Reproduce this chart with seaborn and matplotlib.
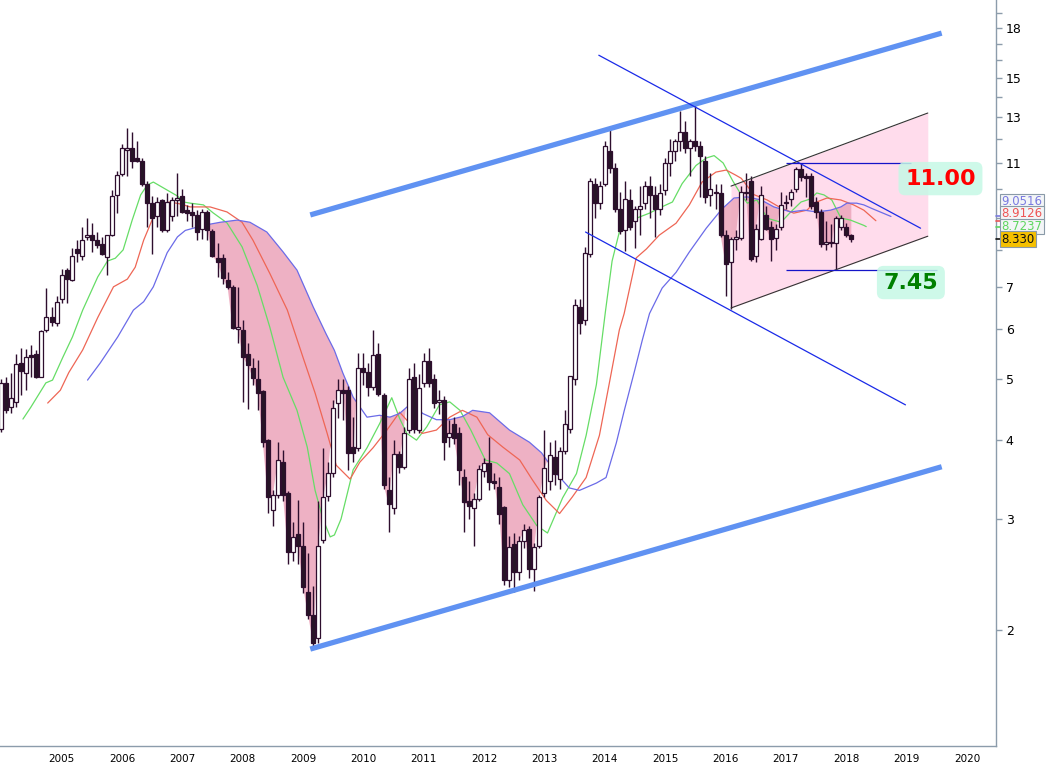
import numpy as np
import pandas as pd
import matplotlib
matplotlib.use('Agg')
import matplotlib.pyplot as plt
import seaborn as sns

# monthly candles, Jan 2004 .. Feb 2018
start_year = 2004
opens = [4.17, 4.92, 4.51, 4.60, 5.30, 5.11, 5.45, 5.48, 5.04, 5.98, 6.27, 6.14,
         6.69, 7.44, 7.17, 8.03, 7.83, 8.40, 8.46, 8.30, 8.18, 7.80, 8.46, 9.80,
         10.55, 11.55, 11.6, 11.2, 11.1, 10.2, 9.5, 9.05, 9.6, 8.6, 9.05, 9.62,
         9.75, 9.26, 9.2, 9.1, 8.65, 9.2, 8.58, 7.78, 7.78, 7.17, 7.0, 6.0,
         5.98, 5.47, 5.2, 5.0, 4.78, 4.0, 3.1, 3.27, 3.70, 3.3, 2.66, 2.84,
         2.72, 2.3, 2.11, 1.94, 2.78, 3.26, 3.55, 4.58, 4.80, 4.80, 3.9, 3.89,
         5.2, 5.13, 4.85, 5.47, 4.72, 3.34, 3.12, 3.80, 3.63, 4.15, 5.04, 4.15,
         4.92, 5.34, 5.0, 4.6, 4.63, 4.04, 4.24, 4.1, 3.5, 3.2, 3.12, 3.23,
         3.58, 3.68, 3.45, 3.37, 3.13, 2.40, 2.74, 2.47, 2.77, 2.89, 2.5, 2.72,
         3.3, 3.45, 3.76, 3.47, 3.85, 4.17, 5.0, 6.5, 6.2, 7.9, 10.2, 9.5,
         10.2, 11.5, 10.8, 9.3, 8.6, 9.6, 8.9, 9.3, 9.5, 10.1, 9.8, 9.3,
         9.95, 11.0, 11.5, 11.9, 12.3, 11.6, 11.9, 11.7, 11.1, 9.8, 9.9, 9.85,
         8.45, 7.65, 8.35, 8.37, 9.85, 10.3, 7.83, 8.35, 9.1, 8.7, 8.38, 8.7,
         9.5, 9.65, 10.0, 10.77, 10.45, 10.5, 9.55, 9.2, 8.17, 8.25, 8.2, 8.7,
         8.7, 8.45]
highs = [5.0, 5.04, 5.11, 5.48, 5.60, 5.58, 5.66, 5.55, 5.98, 6.97, 6.50, 6.77,
         7.47, 7.50, 8.06, 8.30, 8.71, 8.99, 8.83, 8.55, 8.39, 8.46, 9.97, 10.7,
         11.8, 12.5, 12.3, 11.9, 11.2, 10.3, 9.75, 9.7, 9.65, 9.85, 9.7, 10.6,
         10.0, 9.45, 9.5, 9.25, 9.3, 9.25, 8.65, 8.2, 7.9, 7.4, 7.05, 7.0,
         6.2, 5.7, 5.4, 5.36, 4.8, 4.02, 3.33, 3.97, 3.86, 3.32, 2.97, 3.21,
         2.97, 2.65, 2.35, 3.2, 3.88, 3.7, 4.63, 5.0, 5.0, 4.88, 4.35, 5.5,
         5.5, 5.3, 5.98, 5.7, 4.75, 3.5, 4.0, 3.85, 4.2, 5.2, 5.3, 5.1,
         5.5, 5.6, 5.1, 4.8, 4.7, 4.3, 4.35, 4.2, 3.6, 3.45, 3.3, 3.65,
         3.75, 4.05, 3.55, 3.5, 3.15, 2.82, 2.85, 2.82, 2.95, 2.92, 2.75, 3.28,
         4.15, 3.97, 4.0, 3.9, 4.46, 5.06, 6.7, 6.7, 8.1, 10.4, 10.4, 10.3,
         11.9, 12.4, 11.0, 9.9, 10.3, 10.0, 9.4, 10.1, 10.3, 10.5, 10.1, 10.2,
         11.2, 12.0, 12.0, 13.3, 12.8, 12.0, 13.6, 11.9, 11.3, 10.6, 10.2, 10.2,
         8.6, 8.4, 8.6, 10.1, 10.6, 10.5, 8.8, 10.1, 9.4, 8.9, 8.8, 9.9,
         9.8, 10.0, 10.85, 11.0, 10.6, 10.6, 9.7, 9.3, 8.9, 8.8, 9.05, 9.1,
         8.85, 8.5]
lows = [4.12, 4.41, 4.41, 4.51, 4.72, 4.80, 5.04, 5.02, 5.03, 5.94, 6.06, 6.06,
        6.60, 6.60, 7.15, 7.67, 7.72, 8.30, 7.95, 8.06, 7.86, 7.30, 8.43, 9.15,
        10.5, 10.5, 10.8, 11.05, 10.1, 8.7, 7.9, 8.7, 8.55, 8.55, 8.9, 9.05,
        9.15, 8.9, 8.7, 8.3, 8.35, 8.3, 7.8, 7.25, 7.08, 6.95, 6.0, 5.7,
        4.6, 4.48, 4.9, 4.46, 3.9, 3.07, 2.92, 3.24, 3.2, 2.55, 2.57, 2.55,
        2.29, 2.08, 1.88, 1.91, 2.75, 3.2, 3.5, 4.33, 4.3, 3.59, 3.7, 3.85,
        4.9, 4.7, 4.8, 4.7, 3.35, 2.86, 3.05, 3.55, 3.6, 4.1, 4.1, 4.1,
        4.85, 4.85, 4.5, 4.4, 3.72, 3.9, 3.95, 3.4, 2.86, 3.0, 2.72, 3.2,
        3.5, 3.33, 3.35, 2.95, 2.36, 2.34, 2.3, 2.4, 2.7, 2.42, 2.31, 2.7,
        3.25, 3.33, 3.4, 3.35, 3.8, 4.1, 4.9, 5.9, 6.1, 7.8, 9.0, 9.3,
        10.1, 10.6, 9.2, 8.5, 7.97, 8.6, 8.07, 8.45, 9.3, 9.0, 8.4, 9.1,
        9.8, 10.5, 11.1, 11.5, 11.4, 10.5, 11.5, 9.7, 9.5, 9.4, 9.3, 8.4,
        6.76, 6.45, 8.0, 8.3, 9.6, 7.7, 7.65, 8.3, 8.6, 7.7, 8.0, 8.6,
        9.3, 9.4, 9.9, 10.3, 9.7, 9.3, 9.0, 8.1, 8.0, 8.1, 7.45, 8.6,
        8.4, 8.25]
closes = [4.92, 4.46, 4.67, 5.28, 5.14, 5.41, 5.42, 5.04, 5.96, 6.27, 6.16, 6.62,
          7.30, 7.20, 7.83, 7.92, 8.30, 8.43, 8.30, 8.15, 7.89, 8.46, 9.75, 10.52,
          11.6, 11.6, 11.1, 11.1, 10.2, 9.5, 9.0, 9.55, 8.6, 9.55, 9.6, 9.68,
          9.2, 9.17, 9.1, 8.55, 9.2, 8.6, 7.83, 7.66, 7.22, 7.0, 6.03, 6.05,
          5.42, 5.26, 5.02, 4.75, 3.97, 3.25, 3.27, 3.72, 3.27, 2.66, 2.81, 2.72,
          2.34, 2.11, 1.91, 2.72, 3.25, 3.55, 4.5, 4.80, 4.75, 3.82, 3.82, 5.2,
          5.13, 4.85, 5.45, 4.74, 3.4, 3.17, 3.80, 3.63, 4.11, 5.0, 4.17, 4.84,
          5.34, 4.92, 4.58, 4.62, 3.98, 4.1, 4.03, 3.59, 3.19, 3.14, 3.23, 3.6,
          3.68, 3.43, 3.42, 3.05, 2.40, 2.71, 2.47, 2.77, 2.88, 2.5, 2.71, 3.25,
          3.61, 3.79, 3.54, 3.85, 4.24, 5.06, 6.55, 6.14, 7.93, 10.3, 9.5, 10.1,
          11.7, 10.8, 9.3, 8.58, 9.65, 8.7, 9.3, 9.4, 10.1, 9.8, 9.3, 9.85,
          11.0, 11.5, 11.9, 12.3, 11.6, 11.9, 11.7, 11.3, 9.7, 10.0, 9.85, 8.45,
          7.6, 8.35, 8.38, 9.9, 9.9, 7.75, 8.65, 9.8, 8.65, 8.35, 8.65, 9.45,
          9.55, 9.9, 10.77, 10.45, 10.42, 9.4, 9.2, 8.17, 8.25, 8.2, 9.0, 9.0,
          8.45, 8.33]

# moving averages as drawn (decimal year, price)
ma_green_x = [2004.36, 2004.49, 2004.74, 2004.85, 2005.02, 2005.18, 2005.35, 2005.60, 2005.76, 2005.89,
              2006.02, 2006.17, 2006.31, 2006.42, 2006.52, 2006.69, 2006.80, 2006.92, 2007.02, 2007.13,
              2007.35, 2007.51, 2007.74, 2007.99, 2008.24, 2008.45, 2008.67, 2008.90, 2009.07, 2009.20,
              2009.33, 2009.45, 2009.52, 2009.63, 2009.83, 2010.06, 2010.27, 2010.47, 2010.60, 2010.72,
              2010.88, 2011.05, 2011.26, 2011.43, 2011.60, 2011.78, 2012.02, 2012.21, 2012.42, 2012.64,
              2012.87, 2013.05, 2013.30, 2013.53, 2013.69, 2013.86, 2014.01, 2014.12, 2014.24, 2014.37,
              2014.52, 2014.74, 2014.90, 2015.12, 2015.28, 2015.51, 2015.68, 2015.81, 2015.96, 2016.12,
              2016.26, 2016.36, 2016.52, 2016.69, 2016.92, 2017.08, 2017.25, 2017.41, 2017.51, 2017.63,
              2017.76, 2017.91, 2018.07, 2018.29, 2018.33]
ma_green = [4.32, 4.51, 4.93, 4.98, 5.41, 5.83, 6.43, 7.26, 7.69, 7.77,
            8.01, 8.93, 9.79, 10.15, 10.26, 10.04, 9.9, 9.75, 9.54, 9.5,
            9.44, 9.17, 8.84, 8.1, 7.04, 6.04, 5.03, 4.46, 3.9, 3.33,
            3.0, 2.81, 2.83, 3.0, 3.59, 3.89, 4.25, 4.67, 4.33, 4.10,
            4.0, 4.2, 4.55, 4.6, 4.46, 4.15, 3.72, 3.68, 3.54, 3.16,
            2.93, 2.85, 3.24, 3.54, 4.07, 4.9, 6.4, 7.69, 8.55, 8.93,
            8.99, 9.16, 9.33, 9.54, 10.2, 10.9, 11.2, 11.3, 11.0, 10.3,
            9.79, 9.5, 9.61, 8.99, 8.86, 9.2, 9.54, 9.65, 9.86, 9.79,
            9.61, 9.0, 8.93, 8.76, 8.72]

ma_red_x = [2004.77, 2004.98, 2005.12, 2005.35, 2005.60, 2005.86, 2006.09, 2006.22, 2006.36, 2006.52,
            2006.69, 2006.80, 2006.97, 2007.13, 2007.46, 2007.74, 2007.99, 2008.17, 2008.45, 2008.74,
            2009.00, 2009.20, 2009.40, 2009.55, 2009.78, 2009.94, 2010.16, 2010.39, 2010.60, 2010.77,
            2010.98, 2011.21, 2011.43, 2011.64, 2011.88, 2012.06, 2012.31, 2012.59, 2012.80, 2013.03,
            2013.25, 2013.46, 2013.69, 2013.91, 2014.07, 2014.24, 2014.32, 2014.52, 2014.69, 2014.90,
            2015.18, 2015.40, 2015.61, 2015.84, 2016.01, 2016.17, 2016.26, 2016.47, 2016.69, 2016.92,
            2017.13, 2017.35, 2017.46, 2017.68, 2017.91, 2018.12, 2018.29, 2018.49]
ma_red = [4.58, 4.80, 5.12, 5.56, 6.26, 7.0, 7.2, 7.52, 8.3, 9.03,
          9.5, 9.54, 9.47, 9.37, 9.37, 9.2, 8.86, 8.3, 7.35, 6.43,
          5.41, 4.75, 4.1, 3.65, 3.47, 3.69, 3.89, 4.15, 4.43, 4.25,
          4.1, 4.15, 4.35, 4.46, 4.35, 4.08, 3.9, 3.72, 3.46, 3.21,
          3.06, 3.25, 3.49, 4.07, 4.9, 5.98, 6.35, 7.78, 8.04, 8.45,
          8.83, 9.44, 10.26, 10.64, 10.72, 10.52, 10.4, 9.8, 9.61, 9.33,
          9.16, 9.26, 9.5, 9.68, 9.61, 9.44, 9.26, 8.91]

ma_blue_x = [2005.43, 2005.64, 2005.93, 2006.19, 2006.36, 2006.52, 2006.75, 2006.92, 2007.05, 2007.35,
             2007.63, 2007.91, 2008.12, 2008.40, 2008.67, 2008.90, 2009.17, 2009.38, 2009.52, 2009.66,
             2009.83, 2010.06, 2010.27, 2010.44, 2010.60, 2010.82, 2010.98, 2011.21, 2011.43, 2011.64,
             2011.81, 2012.09, 2012.42, 2012.75, 2012.95, 2013.20, 2013.41, 2013.58, 2013.86, 2014.02,
             2014.19, 2014.32, 2014.49, 2014.62, 2014.74, 2014.95, 2015.18, 2015.40, 2015.68, 2015.94,
             2016.14, 2016.36, 2016.59, 2016.80, 2017.08, 2017.30, 2017.51, 2017.74, 2017.91, 2018.01,
             2018.17, 2018.29, 2018.42, 2018.74]
ma_blue = [4.98, 5.3, 5.83, 6.43, 6.63, 7.0, 7.93, 8.4, 8.6, 8.76,
           8.86, 8.93, 8.86, 8.55, 7.95, 7.44, 6.5, 5.9, 5.55, 5.11,
           4.68, 4.35, 4.38, 4.35, 4.41, 4.6, 4.41, 4.31, 4.31, 4.36,
           4.46, 4.42, 4.15, 3.97, 3.82, 3.54, 3.36, 3.33, 3.42, 3.49,
           3.96, 4.45, 5.14, 5.76, 6.35, 6.97, 7.38, 7.95, 8.67, 9.3,
           9.68, 9.72, 9.61, 9.37, 9.2, 9.26, 9.2, 9.26, 9.37, 9.5,
           9.5, 9.44, 9.32, 9.05]

# drawn trend lines: start/end (year, price)
thick_top = [(2009.12, 9.1), (2019.58, 17.67)]
thick_bottom = [(2009.12, 1.866), (2019.58, 3.63)]
thin_upper = [(2013.90, 16.3), (2019.23, 8.67)]
thin_lower = [(2013.68, 8.55), (2018.98, 4.55)]
chan_x = [2016.09, 2019.35]
chan_up = [10.11, 13.2]
chan_lo = [6.48, 8.42]
levels = [11.00, 7.45]
level_start = 2017.0
level_end = [2019.07, 2019.5]

# last values shown on the price axis
tag_labels = ['9.0516', '8.9126', '8.7237', '8.330']
tag_values = [9.0516, 8.9126, 8.7237, 8.330]

years = list(range(2005, 2021))
price_ticks = list(range(2, 20))
price_labels = ['2', '3', '4', '5', '6', '7', '', '', '', '11', '', '13', '', '15', '', '', '18', '']

sns.set_style('white')
plt.rcParams['font.family'] = ['DejaVu Sans']

candles = pd.DataFrame({'open': opens, 'high': highs, 'low': lows, 'close': closes})
candles['x'] = start_year + np.arange(len(candles)) / 12.0

fig = plt.figure(figsize=(10.47, 7.66), dpi=100)
ax = fig.add_axes([0, 20 / 766, 996 / 1047, 746 / 766])
ax.set_yscale('log')

# pink channel box
ax.fill_between(chan_x, chan_lo, chan_up, color='#ffdcec', lw=0, zorder=0.5)

# cloud between slow average and close
blue_at = np.interp(candles['x'], ma_blue_x, ma_blue, left=np.nan, right=np.nan)
valid = ~np.isnan(blue_at)
cx = candles['x'][valid].values
cc = candles['close'][valid].values
bb = blue_at[valid]
ax.fill_between(cx, cc, bb, where=cc < bb, interpolate=True, color='#eda9be', alpha=0.9,
                lw=0, zorder=1)

# moving averages
sns.lineplot(x=ma_green_x, y=ma_green, ax=ax, color='#66dd66', lw=0.9, sort=False,
             estimator=None, legend=False, zorder=2)
sns.lineplot(x=ma_red_x, y=ma_red, ax=ax, color='#ee6655', lw=0.9, sort=False,
             estimator=None, legend=False, zorder=2)
sns.lineplot(x=ma_blue_x, y=ma_blue, ax=ax, color='#6b6be8', lw=0.9, sort=False,
             estimator=None, legend=False, zorder=2)

# candles
edge = '#2e0e2e'
ax.vlines(candles['x'], candles['low'], candles['high'], color=edge, lw=1.0, zorder=3)
bottoms = np.minimum(candles['open'], candles['close'])
heights = np.maximum(np.abs(candles['close'] - candles['open']), bottoms * 0.006)
faces = np.where(candles['close'] < candles['open'], '#261426', 'white')
ax.bar(candles['x'], heights, bottom=bottoms, width=0.066, color=faces,
       edgecolor=edge, linewidth=0.9, zorder=4)

# trend lines
for seg in (thick_top, thick_bottom):
    ax.plot([p[0] for p in seg], [p[1] for p in seg], color='#6092f2', lw=3.8,
            solid_capstyle='butt', zorder=5)
for seg in (thin_upper, thin_lower):
    ax.plot([p[0] for p in seg], [p[1] for p in seg], color='#1a2ae8', lw=0.9, zorder=5)
ax.plot(chan_x, chan_up, color='#333333', lw=0.8, zorder=5)
ax.plot(chan_x, chan_lo, color='#333333', lw=0.8, zorder=5)
for lv, xe in zip(levels, level_end):
    ax.hlines(lv, level_start, xe, color='#1414c8', lw=0.9, zorder=5)

# level labels
ax.text(2019.56, 10.39, f'{levels[0]:.2f}', color='#ff0000', fontsize=16, fontweight='bold',
        ha='center', va='center', zorder=7,
        bbox=dict(boxstyle='round,pad=0.3', fc='#c6f8e6', ec='none', alpha=0.85))
ax.text(2019.07, 7.11, f'{levels[1]:.2f}', color='#008000', fontsize=16, fontweight='bold',
        ha='center', va='center', zorder=7,
        bbox=dict(boxstyle='round,pad=0.3', fc='#c6f8e6', ec='none', alpha=0.85))

# axes look
ax.set_xlim(2003.98, 2020.48)
ax.set_ylim(1.31, 19.94)
for s in ('left', 'top'):
    ax.spines[s].set_visible(False)
for s in ('right', 'bottom'):
    ax.spines[s].set_color('#8c9cab')
    ax.spines[s].set_linewidth(1.0)
ax.yaxis.tick_right()
ax.set_yticks(price_ticks)
ax.set_yticklabels(price_labels)
ax.yaxis.set_minor_locator(plt.NullLocator())
ax.set_xticks(years)
ax.set_xticklabels([str(y) for y in years])
ax.tick_params(axis='y', which='major', length=4, width=1, color='#8c9cab', pad=3,
               labelsize=9, labelcolor='black', right=True, left=False)
ax.tick_params(axis='x', length=3, width=1, color='#8c9cab', pad=3, labelsize=7.5,
               labelcolor='black')
ax.set_xlabel('')
ax.set_ylabel('')

# price tags on the right axis, stacked so they stay readable
tag_colors = ['#7a7ae0', '#ee5555', '#5fd65f', '#111111']
tag_faces = ['#f3f5f7', '#f3f5f7', '#f3f5f7', '#f5c000']
tag_shift = [10.7, 4.8, 0.0, 0.0]
ytrans = ax.get_yaxis_transform()
for lab, val, col, fc, dy in zip(tag_labels, tag_values, tag_colors, tag_faces, tag_shift):
    ax.plot([1.0, 1.004], [val, val], transform=ytrans, color=col, lw=1.2, clip_on=False, zorder=8)
    ax.annotate(lab, xy=(1.0, val), xycoords=ytrans, xytext=(4, dy), textcoords='offset points',
                ha='left', va='center', fontsize=8.5, color=col, annotation_clip=False, zorder=9,
                bbox=dict(boxstyle='square,pad=0.1', fc=fc, ec='#8a9aa8', lw=0.8))

fig.savefig('out.png', dpi=100)
